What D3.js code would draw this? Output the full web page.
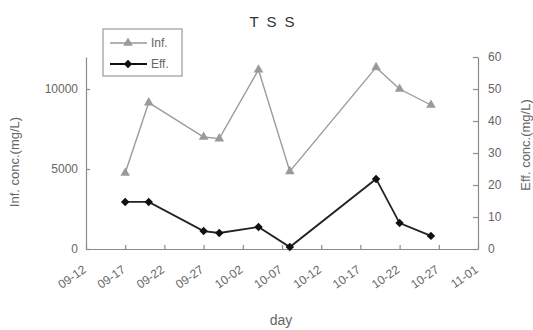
<!DOCTYPE html>
<html>
<head>
<meta charset="utf-8">
<script src="https://cdn.jsdelivr.net/npm/d3@7.9.0/dist/d3.min.js"></script>
<style>
  body { margin: 0; background: #fff; }
  text { font-family: "Liberation Sans", Arial, sans-serif; }
</style>
</head>
<body>
<div class="container"></div>
<script>
const width = 533, height = 330;
const margin = {top: 57, right: 55, bottom: 81, left: 86};

// sampling days (mm-dd) and concentrations
const days = ["09-17", "09-20", "09-27", "09-29", "10-04", "10-08", "10-19", "10-22", "10-26"];
const infValues = [4750, 9150, 7000, 6900, 11200, 4850, 11350, 10000, 9000];
const effValues = [14.7, 14.7, 5.6, 5.0, 6.9, 0.6, 21.9, 8.1, 4.1];
const xTickLabels = ["09-12", "09-17", "09-22", "09-27", "10-02", "10-07", "10-12", "10-17", "10-22", "10-27", "11-01"];
const leftTicks = [0, 5000, 10000];
const rightTicks = [0, 10, 20, 30, 40, 50, 60];

const parseDay = d3.timeParse("%Y-%m-%d");
const toDate = s => parseDay("2007-" + s);

const svg = d3.select(".container").append("svg")
    .attr("width", width)
    .attr("height", height);

const x = d3.scaleTime()
    .domain([toDate("09-12"), toDate("11-01")])
    .range([margin.left, width - margin.right]);

const yL = d3.scaleLinear().domain([0, 12000]).range([height - margin.bottom, margin.top]);
const yR = d3.scaleLinear().domain([0, 60]).range([height - margin.bottom, margin.top]);

const axisColor = "#8a8a8a", textColor = "#666";

// x axis, ticks inside
const xAxis = svg.append("g")
    .attr("transform", `translate(0,${height - margin.bottom})`)
    .call(d3.axisBottom(x)
        .tickValues(xTickLabels.map(toDate))
        .tickSize(-4)
        .tickSizeOuter(0)
        .tickFormat(d3.timeFormat("%m-%d")));
xAxis.selectAll("text")
    .attr("transform", "translate(-2,19) rotate(-35)")
    .attr("dy", "0.35em")
    .attr("x", 0).attr("y", 0)
    .style("text-anchor", "end");

// left axis
const leftAxis = svg.append("g")
    .attr("transform", `translate(${margin.left},0)`)
    .call(d3.axisLeft(yL).tickValues(leftTicks).tickSize(-4).tickSizeOuter(0).tickPadding(8).tickFormat(d3.format("d")));

// right axis
const rightAxis = svg.append("g")
    .attr("transform", `translate(${width - margin.right},0)`)
    .call(d3.axisRight(yR).tickValues(rightTicks).tickSize(-5).tickSizeOuter(0).tickPadding(10));

[xAxis, leftAxis, rightAxis].forEach(g => {
    g.selectAll("path, line").attr("stroke", axisColor).attr("stroke-width", 1.2);
    g.selectAll("text").attr("fill", textColor).style("font-size", "12px");
});

// Inf. series
const infData = days.map((d, i) => ({date: toDate(d), value: infValues[i]}));
const effData = days.map((d, i) => ({date: toDate(d), value: effValues[i]}));

svg.append("path")
    .datum(infData)
    .attr("fill", "none")
    .attr("stroke", "#9a9a9a")
    .attr("stroke-width", 1.4)
    .attr("d", d3.line().x(d => x(d.date)).y(d => yL(d.value)));

svg.append("g").selectAll("path")
    .data(infData).enter().append("path")
    .attr("transform", d => `translate(${x(d.date)},${yL(d.value)})`)
    .attr("d", d3.symbol(d3.symbolTriangle, 40))
    .attr("fill", "#9a9a9a");

// Eff. series
svg.append("path")
    .datum(effData)
    .attr("fill", "none")
    .attr("stroke", "#222")
    .attr("stroke-width", 1.8)
    .attr("d", d3.line().x(d => x(d.date)).y(d => yR(d.value)));

svg.append("g").selectAll("path")
    .data(effData).enter().append("path")
    .attr("transform", d => `translate(${x(d.date)},${yR(d.value)}) rotate(45)`)
    .attr("d", d3.symbol(d3.symbolSquare, 36))
    .attr("fill", "#111");

// title and axis labels
svg.append("text")
    .attr("x", 276).attr("y", 27)
    .attr("text-anchor", "middle")
    .attr("fill", "#333")
    .style("font-size", "15px")
    .style("letter-spacing", "8px")
    .text("TSS");

svg.append("text")
    .attr("transform", `translate(19,${162}) rotate(-90)`)
    .attr("text-anchor", "middle")
    .attr("fill", textColor)
    .style("font-size", "13px")
    .text("Inf. conc.(mg/L)");

svg.append("text")
    .attr("transform", `translate(530,${145}) rotate(-90)`)
    .attr("text-anchor", "middle")
    .attr("fill", textColor)
    .style("font-size", "13px")
    .text("Eff. conc.(mg/L)");

svg.append("text")
    .attr("x", 281).attr("y", 325)
    .attr("text-anchor", "middle")
    .attr("fill", textColor)
    .style("font-size", "14px")
    .text("day");

// legend
const legend = svg.append("g");
legend.append("rect")
    .attr("x", 103).attr("y", 29).attr("width", 79).attr("height", 47)
    .attr("fill", "#fff").attr("stroke", "#999").attr("stroke-width", 1.2);

const legendItems = [
    {label: "Inf.", color: "#9a9a9a", sym: d3.symbolTriangle, size: 40, rot: 0, width: 1.4, y: 43},
    {label: "Eff.", color: "#111", sym: d3.symbolSquare, size: 36, rot: 45, width: 1.8, y: 64}
];
legendItems.forEach(it => {
    legend.append("line")
        .attr("x1", 110).attr("x2", 147).attr("y1", it.y).attr("y2", it.y)
        .attr("stroke", it.color).attr("stroke-width", it.width);
    legend.append("path")
        .attr("transform", `translate(128,${it.y}) rotate(${it.rot})`)
        .attr("d", d3.symbol(it.sym, it.size))
        .attr("fill", it.color);
    legend.append("text")
        .attr("x", 151).attr("y", it.y).attr("dy", "0.35em")
        .attr("fill", textColor)
        .style("font-size", "12px")
        .text(it.label);
});
</script>
</body>
</html>
